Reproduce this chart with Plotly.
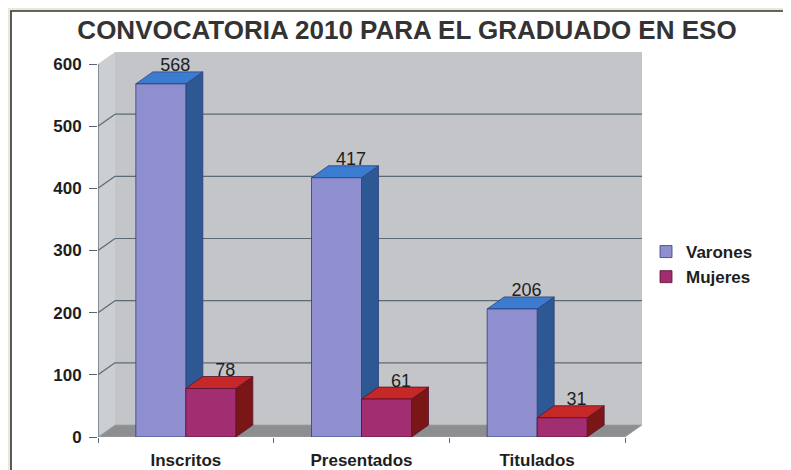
import plotly.graph_objects as go

# ---------------- data ----------------
categories = ["Inscritos", "Presentados", "Titulados"]
varones = [568, 417, 206]
mujeres = [78, 61, 31]
series_names = ["Varones", "Mujeres"]
y_ticks = [0, 100, 200, 300, 400, 500, 600]
title_text = "CONVOCATORIA 2010 PARA EL GRADUADO EN ESO"

# ---------------- geometry / style ----------------
OFF = 8                         # page body margin of the html page
W, H = 791 - OFF, 470 - OFF
ML, MR, MT, MB = 98 - OFF, 149, 52 - OFF, 33
plot_w = W - ML - MR
plot_h = H - MT - MB
DX_PX, DY_PX = 17, 12          # 3-D depth offset in pixels
BAR_PX = 50                    # bar front width in pixels
LABEL_DROP_PX = 4
n = len(categories)
unit_x = (plot_w - DX_PX) / n
DX = DX_PX / unit_x
YMAX = max(y_ticks)
unit_y = (plot_h - DY_PX) / YMAX
DY = DY_PX / unit_y
BW = BAR_PX / unit_x

FONT = "Liberation Sans, Arial, sans-serif"
BEIGE = "#ebe8d6"
WALL = "#c3c5c8"
SIDEWALL = "#cccfd1"
FLOOR = "#8c8e90"
GRID = "#5c6a76"

colors = {
    "Varones": dict(front="#8f8fd0", top="#3b7cd0", side="#2e5894", edge="#2c3f78"),
    "Mujeres": dict(front="#a02e70", top="#c62828", side="#7a1616", edge="#5a1030"),
}

xc = [i + 0.5 for i in range(n)]
series_vals = [varones, mujeres]
offsets = [-BW / 2, BW / 2]

fig = go.Figure()

# front faces as real bars
for name, vals in zip(series_names, series_vals):
    c = colors[name]
    fig.add_trace(go.Bar(
        x=xc, y=vals, name=name,
        marker=dict(color=c["front"], line=dict(color=c["edge"], width=0.8)),
        hoverinfo="skip",
    ))

# value labels
for name, vals, off in zip(series_names, series_vals, offsets):
    fig.add_trace(go.Scatter(
        x=[x + off + 0.85 * DX for x in xc],
        y=[v + DY - LABEL_DROP_PX / unit_y for v in vals],
        text=[str(v) for v in vals],
        mode="text", textposition="top center",
        textfont=dict(family=FONT, size=18, color="#1e1e1e"),
        showlegend=False, hoverinfo="skip", cliponaxis=False,
    ))

shapes = []
# page pixel -> paper coords
px = lambda p: (p - OFF - ML) / plot_w
py = lambda p: (H - MB - (p - OFF)) / plot_h
# outer white frame
shapes.append(dict(type="rect", xref="paper", yref="paper",
                   x0=px(11), x1=px(W + 40), y0=py(H + 40), y1=py(11),
                   fillcolor="white", line=dict(color="#333333", width=1.6), layer="below"))

# walls
shapes.append(dict(type="path", xref="x", yref="y", layer="below",
                   path=f"M {DX},{DY} L {DX},{YMAX+DY} L {n+DX},{YMAX+DY} L {n+DX},{DY} Z",
                   fillcolor=WALL, line=dict(width=0)))
shapes.append(dict(type="path", xref="x", yref="y", layer="below",
                   path=f"M 0,0 L 0,{YMAX} L {DX},{YMAX+DY} L {DX},{DY} Z",
                   fillcolor=SIDEWALL, line=dict(width=0)))
shapes.append(dict(type="path", xref="x", yref="y", layer="below",
                   path=f"M 0,0 L {n},0 L {n+DX},{DY} L {DX},{DY} Z",
                   fillcolor=FLOOR, line=dict(color="#9aa0a6", width=0.8)))
# gridlines on side wall and back wall
for v in y_ticks[1:-1]:
    shapes.append(dict(type="line", xref="x", yref="y", layer="below",
                       x0=0, y0=v, x1=DX, y1=v + DY, line=dict(color=GRID, width=1.2)))
    shapes.append(dict(type="line", xref="x", yref="y", layer="below",
                       x0=DX, y0=v + DY, x1=n + DX, y1=v + DY, line=dict(color=GRID, width=1.2)))
# y-axis line
shapes.append(dict(type="line", xref="x", yref="y", layer="below",
                   x0=0, y0=0, x1=0, y1=YMAX, line=dict(color="#5a6470", width=1.2)))

# 3-D side and top faces of the bars
for i in range(n):
    for name, vals, off in zip(series_names, series_vals, offsets):
        c = colors[name]
        v = vals[i]
        x0 = xc[i] + off - BW / 2
        x1 = xc[i] + off + BW / 2
        shapes.append(dict(type="path", xref="x", yref="y", layer="below",
                           path=f"M {x1},0 L {x1},{v} L {x1+DX},{v+DY} L {x1+DX},{DY} Z",
                           fillcolor=c["side"], line=dict(color=c["edge"], width=0.8)))
        shapes.append(dict(type="path", xref="x", yref="y", layer="below",
                           path=f"M {x0},{v} L {x0+DX},{v+DY} L {x1+DX},{v+DY} L {x1},{v} Z",
                           fillcolor=c["top"], line=dict(color=c["edge"], width=0.8)))

fig.update_layout(
    width=W, height=H,
    margin=dict(l=ML, r=MR, t=MT, b=MB, pad=0, autoexpand=False),
    paper_bgcolor=BEIGE, plot_bgcolor="white",
    barmode="group", bargap=1 - 2 * BW, bargroupgap=0,
    shapes=shapes,
    title=dict(text=title_text, x=(407 - OFF) / W, xref="container", xanchor="center",
               y=1 - (30 - OFF) / H, yref="container", yanchor="middle",
               font=dict(family=FONT, size=26, color="#333333", weight="bold")),
    xaxis=dict(range=[0, n + DX], tickvals=xc, ticktext=categories,
               showgrid=False, zeroline=False, showline=False, automargin=False,
               ticks="outside", ticklen=8, tickcolor="rgba(0,0,0,0)",
               minor=dict(tickvals=list(range(n + 1)), ticks="outside", ticklen=5,
                          tickcolor="#5a6a78", tickwidth=1.2, showgrid=False),
               tickfont=dict(family=FONT, size=17, color="#1e1e1e", weight="bold"),
               fixedrange=True),
    yaxis=dict(range=[0, YMAX + DY], tickvals=y_ticks,
               showgrid=False, zeroline=False, showline=False, automargin=False,
               ticks="outside", ticklen=8, tickcolor="#5a6470", tickwidth=1.2,
               ticklabelstandoff=4,
               tickfont=dict(family=FONT, size=17, color="#1e1e1e", weight="bold"),
               fixedrange=True),
    legend=dict(x=px(646), xanchor="left", y=py(234), yanchor="top",
                bgcolor="rgba(0,0,0,0)", tracegroupgap=0,
                font=dict(family=FONT, size=17, color="#1e1e1e", weight="bold")),
    showlegend=True,
)

fig.write_html("out.html")
